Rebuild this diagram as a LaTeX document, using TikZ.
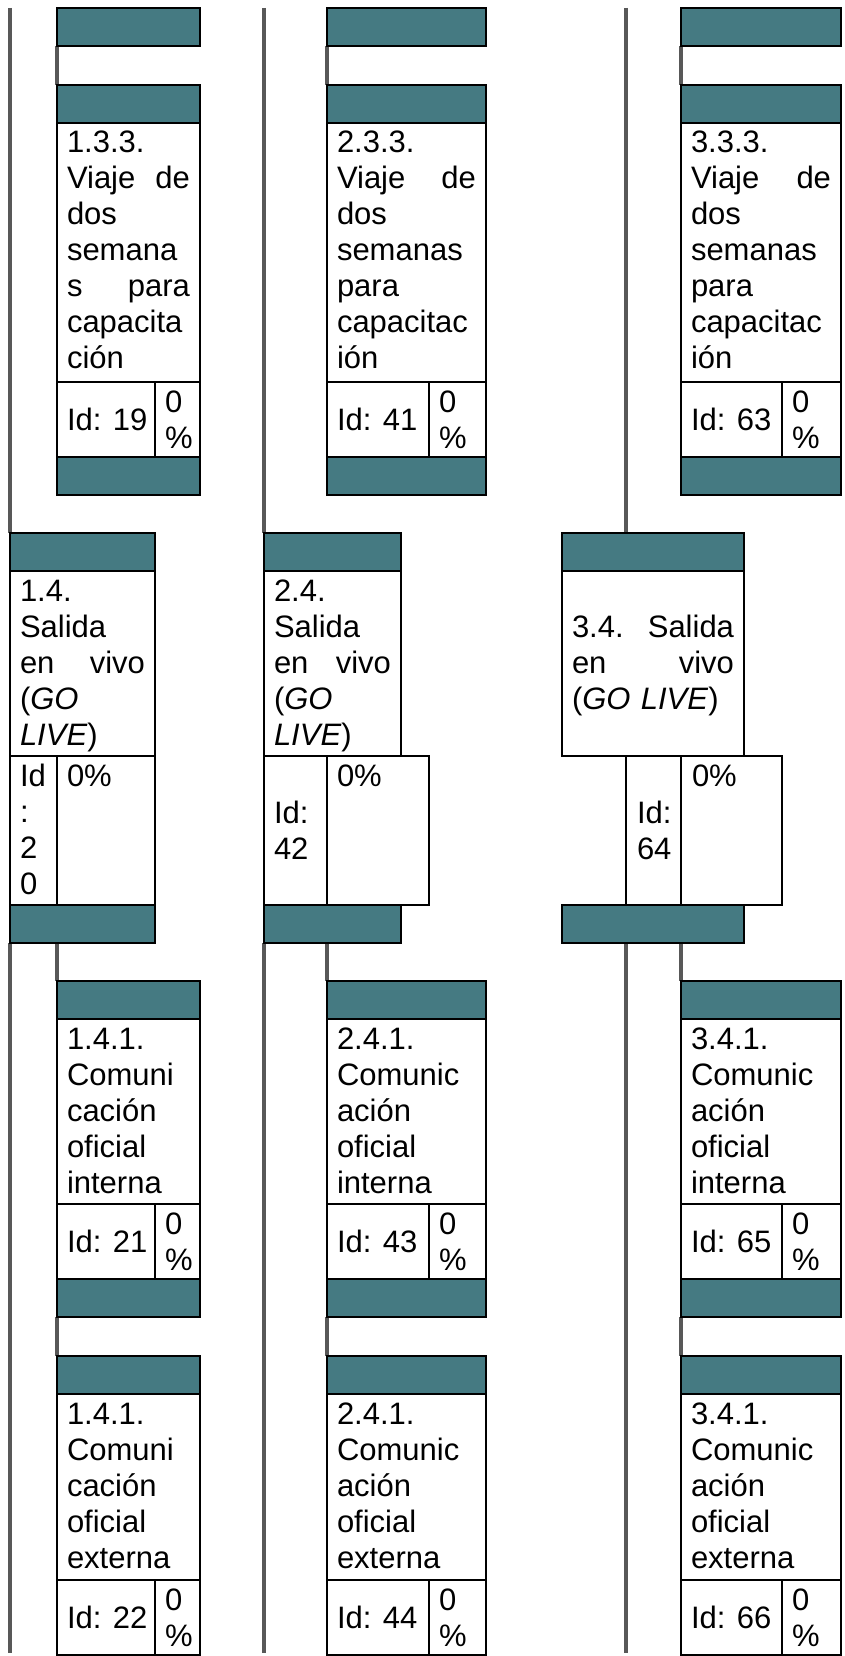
\documentclass[tikz,border=0pt]{standalone}
\usepackage{fontspec}
\setmainfont{Liberation Sans}
\usetikzlibrary{backgrounds}

\definecolor{barteal}{RGB}{69,122,130}
\definecolor{linkgray}{RGB}{88,88,88}
\newcommand\boxfont{\fontsize{31}{36}\selectfont}

\tikzset{
  wbs/.style={draw=black, line width=2.8pt, inner sep=0pt, outer sep=0pt, anchor=north west},
  bar/.style={wbs, fill=barteal, minimum height=38pt},
  cell/.style={wbs, fill=white},
  txt/.style={anchor=base west, inner sep=0pt, outer sep=0pt, align=left, font=\boxfont},
  link/.style={draw=linkgray, line width=3.2pt},
}

% work package: header bar, description, id and progress cells
% #1 name, #2 x, #3 y, #4 width, #5 id-cell width, #6 description height, #7 description, #8 id
\newcommand\taskbox[8]{%
  \pgfmathsetlengthmacro\tboxtw{#4-20}%
  \node[bar, minimum width=#4pt] (#1-top) at (#2,#3) {};
  \node[cell, minimum width=#4pt, minimum height=#6pt] (#1-txt) at (#1-top.south west) {};
  \node[cell, minimum width=#5pt, minimum height=75pt] (#1-id) at (#1-txt.south west) {};
  \node[cell, minimum width=#4pt-#5pt, minimum height=75pt] (#1-pct) at (#1-id.north east) {};
  \node[txt, text width=\tboxtw] (#1-label) at ([xshift=10pt,yshift=-30pt]#1-txt.north west) {#7};
  \node[txt] (#1-idlabel) at ([xshift=10pt,yshift=-48pt]#1-id.north west) {Id: #8};
  \node[txt, text width=30pt] (#1-pctlabel) at ([xshift=10pt,yshift=-30pt]#1-pct.north west) {0\\\%};
}
% closing bar under a work package
\newcommand\closebar[2]{%
  \node[bar, minimum width=#2pt] (#1-bot) at (#1-id.south west) {};
}

\begin{document}
\begin{tikzpicture}[x=1pt,y=-1pt]
\useasboundingbox (0,0) rectangle (845,1656);

% free ends of the guide lines
\coordinate (g1top) at (10,8);
\coordinate (g2top) at (264,8);
\coordinate (g3top) at (626,8);
\coordinate (g1end) at (10,1653);
\coordinate (g2end) at (264,1653);
\coordinate (g3end) at (626,1653);

% parent bars
\node[bar, minimum width=143pt] (p1) at (57,8) {};
\node[bar, minimum width=159pt] (p2) at (327,8) {};
\node[bar, minimum width=160pt] (p3) at (681,8) {};

% training trips
\taskbox{w133}{57}{85}{143}{98}{259}{1.3.3.\\ Viaje\hfill de\\ dos\\ semana\\ s\hfill para\\ capacita\\ ción}{19}
\closebar{w133}{143}
\taskbox{w233}{327}{85}{159}{102}{259}{2.3.3.\\ Viaje\hfill de\\ dos\\ semanas\\ para\\ capacitac\\ ión}{41}
\closebar{w233}{159}
\taskbox{w333}{681}{85}{160}{101}{259}{3.3.3.\\ Viaje\hfill de\\ dos\\ semanas\\ para\\ capacitac\\ ión}{63}
\closebar{w333}{160}

% go live, column 1
\node[bar, minimum width=145pt] (s14-top) at (10,533) {};
\node[cell, minimum width=145pt, minimum height=185pt] (s14-txt) at (s14-top.south west) {};
\node[cell, minimum width=47pt, minimum height=149pt] (s14-id) at (s14-txt.south west) {};
\node[cell, minimum width=98pt, minimum height=149pt] (s14-pct) at (s14-id.north east) {};
\node[bar, minimum width=145pt] (s14-bot) at (s14-id.south west) {};
\node[txt, text width=125pt] (s14-label) at ([xshift=10pt,yshift=-30pt]s14-txt.north west)
  {1.4.\\ Salida\\ en\hfill vivo\\ (\textit{GO}\\ \textit{LIVE})};
\node[txt, text width=30pt] (s14-idlabel) at ([xshift=10pt,yshift=-30pt]s14-id.north west) {Id\\ :\\ 2\\ 0};
\node[txt, text width=70pt] (s14-pctlabel) at ([xshift=10pt,yshift=-30pt]s14-pct.north west) {0\%};

% go live, column 2
\node[bar, minimum width=137pt] (s24-top) at (264,533) {};
\node[cell, minimum width=137pt, minimum height=185pt] (s24-txt) at (s24-top.south west) {};
\node[cell, minimum width=63pt, minimum height=149pt] (s24-id) at (s24-txt.south west) {};
\node[cell, minimum width=102pt, minimum height=149pt] (s24-pct) at (s24-id.north east) {};
\node[bar, minimum width=137pt] (s24-bot) at (s24-id.south west) {};
\node[txt, text width=117pt] (s24-label) at ([xshift=10pt,yshift=-30pt]s24-txt.north west)
  {2.4.\\ Salida\\ en\hfill vivo\\ (\textit{GO}\\ \textit{LIVE})};
\node[txt, text width=45pt] (s24-idlabel) at ([xshift=10pt,yshift=-67pt]s24-id.north west) {Id:\\ 42};
\node[txt, text width=70pt] (s24-pctlabel) at ([xshift=10pt,yshift=-30pt]s24-pct.north west) {0\%};

% go live, column 3
\node[bar, minimum width=182pt] (s34-top) at (562,533) {};
\node[cell, minimum width=182pt, minimum height=185pt] (s34-txt) at (s34-top.south west) {};
\node[cell, minimum width=55pt, minimum height=149pt] (s34-id) at ([xshift=64pt]s34-txt.south west) {};
\node[cell, minimum width=101pt, minimum height=149pt] (s34-pct) at (s34-id.north east) {};
\node[bar, minimum width=182pt] (s34-bot) at (s34-txt.south west |- s34-id.south) {};
\node[txt, text width=162pt] (s34-label) at ([xshift=10pt,yshift=-66pt]s34-txt.north west)
  {3.4.\hfill Salida\\ en\hfill vivo\\ (\textit{GO LIVE})};
\node[txt, text width=40pt] (s34-idlabel) at ([xshift=11pt,yshift=-67pt]s34-id.north west) {Id:\\ 64};
\node[txt, text width=70pt] (s34-pctlabel) at ([xshift=11pt,yshift=-30pt]s34-pct.north west) {0\%};

% internal communication
\taskbox{w141i}{57}{981}{143}{98}{185}{1.4.1.\\ Comuni\\ cación\\ oficial\\ interna}{21}
\closebar{w141i}{143}
\taskbox{w241i}{327}{981}{159}{102}{185}{2.4.1.\\ Comunic\\ ación\\ oficial\\ interna}{43}
\closebar{w241i}{159}
\taskbox{w341i}{681}{981}{160}{101}{185}{3.4.1.\\ Comunic\\ ación\\ oficial\\ interna}{65}
\closebar{w341i}{160}

% external communication
\taskbox{w141e}{57}{1356}{143}{98}{186}{1.4.1.\\ Comuni\\ cación\\ oficial\\ externa}{22}
\taskbox{w241e}{327}{1356}{159}{102}{186}{2.4.1.\\ Comunic\\ ación\\ oficial\\ externa}{44}
\taskbox{w341e}{681}{1356}{160}{101}{186}{3.4.1.\\ Comunic\\ ación\\ oficial\\ externa}{66}

% connectors
\begin{scope}[on background layer]
  \draw[link] (g1top) -- (s14-top.north west);
  \draw[link] (g2top) -- (s24-top.north west);
  \draw[link] (g3top) -- (g3top |- s34-top.north);
  \draw[link] (p1.south west) -- (w133-top.north west);
  \draw[link] (p2.south west) -- (w233-top.north west);
  \draw[link] (p3.south west) -- (w333-top.north west);
  \draw[link] (s14-bot.south west) -- (g1end);
  \draw[link] (s24-bot.south west) -- (g2end);
  \draw[link] (g3end |- s34-bot.south) -- (g3end);
  \draw[link] (w141i-top.north west |- s14-bot.south) -- (w141i-top.north west);
  \draw[link] (w241i-top.north west |- s24-bot.south) -- (w241i-top.north west);
  \draw[link] (w341i-top.north west |- s34-bot.south) -- (w341i-top.north west);
  \draw[link] (w141i-bot.south west) -- (w141e-top.north west);
  \draw[link] (w241i-bot.south west) -- (w241e-top.north west);
  \draw[link] (w341i-bot.south west) -- (w341e-top.north west);
\end{scope}
\end{tikzpicture}
\end{document}
